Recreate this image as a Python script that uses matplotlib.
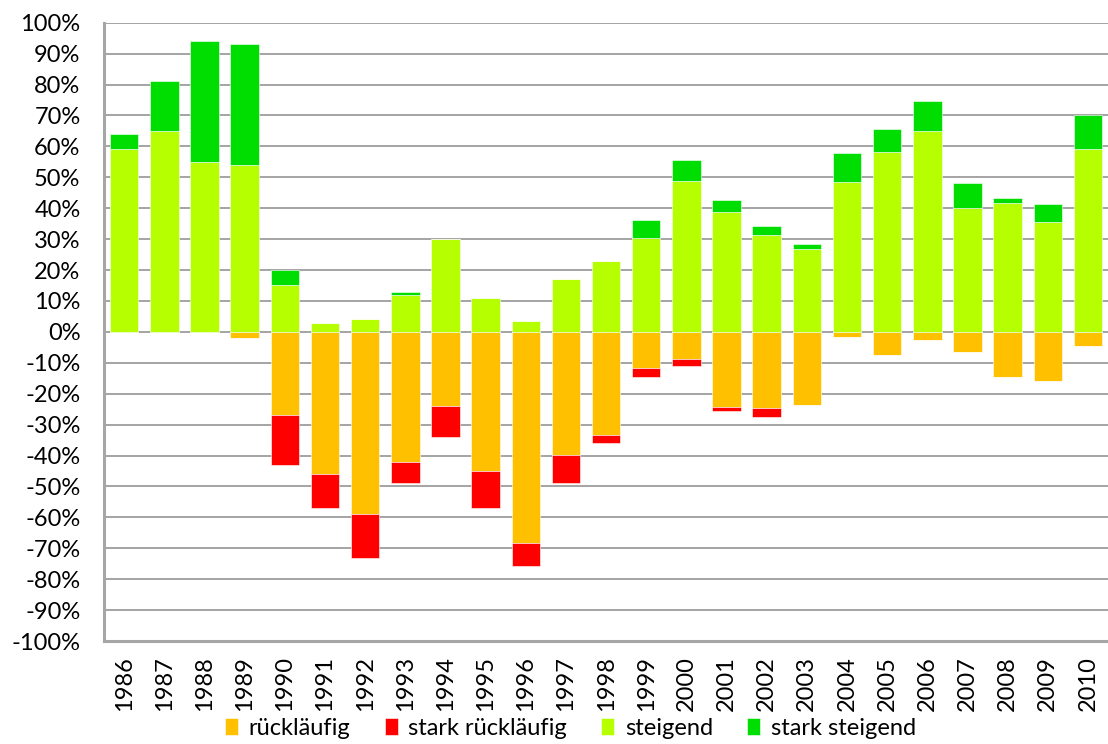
import numpy as np
import matplotlib
matplotlib.use("Agg")
from matplotlib import pyplot as plt
import matplotlib.ticker as ticker

plt.rcParams['font.family'] = ['Lato', 'DejaVu Sans']

# Werte in Prozent
years = [str(y) for y in range(1986, 2011)]
steigend = [59, 65, 55, 54, 15, 3, 4, 12, 30, 11, 3.5, 17, 23, 30.3, 48.9,
            38.9, 31.4, 26.9, 48.4, 58.2, 65, 40.2, 41.7, 35.6, 59.2]
stark_steigend = [5, 16, 39, 39, 5, 0, 0, 0.8, 0, 0, 0, 0, 0, 5.8, 6.7,
                  3.7, 2.7, 1.5, 9.3, 7.3, 9.8, 8, 1.7, 5.7, 10.9]
ruecklaeufig = [0, 0, 0, -2, -27, -46, -59, -42, -24, -45, -68.3, -39.8, -33.5, -11.7, -8.9,
                -24.4, -24.7, -23.8, -1.6, -7.4, -2.7, -6.5, -14.5, -15.8, -4.6]
stark_ruecklaeufig = [0, 0, 0, 0, -16, -11, -14, -7, -10, -12, -7.3, -9.2, -2.5, -2.8, -2,
                      -1.2, -2.7, 0, 0, 0, 0, 0, 0, 0, 0]

c_orange = '#FFC000'
c_red = '#FF0000'
c_light = '#B5FF00'
c_green = '#00DD00'

fig = plt.figure(figsize=(11.08, 7.44), dpi=100)
ax = fig.add_axes([0.094, 0.1384, 0.906, 0.8311])

x = np.arange(len(years))
w = 0.71
kw = dict(width=w, edgecolor='#FFFFFF', linewidth=0.4, zorder=3)
ax.bar(x, ruecklaeufig, color=c_orange, label='rückläufig', **kw)
ax.bar(x, stark_ruecklaeufig, bottom=ruecklaeufig, color=c_red, label='stark rückläufig', **kw)
ax.bar(x, steigend, color=c_light, label='steigend', **kw)
ax.bar(x, stark_steigend, bottom=steigend, color=c_green, label='stark steigend', **kw)

ax.set_xlim(-0.5, len(years) - 0.5)
ax.set_ylim(-100, 100)
ax.set_yticks(np.arange(-100, 101, 10))
ax.yaxis.set_major_formatter(ticker.FuncFormatter(lambda v, p: f'{v:.0f}%'))
ax.set_xticks(x)
ax.set_xticklabels(years, rotation=90)

ax.grid(axis='y', color='#8C8C8C', linewidth=1.1, zorder=0)
ax.set_axisbelow(True)
for s in ['top', 'right']:
    ax.spines[s].set_visible(False)
for s in ['left', 'bottom']:
    ax.spines[s].set_color('#A6A6A6')
    ax.spines[s].set_linewidth(2.2)

ax.tick_params(axis='y', labelsize=17, length=0, pad=17)
ax.tick_params(axis='x', labelsize=17, length=0, pad=11)

handles, labels = ax.get_legend_handles_labels()
fig.legend(handles, labels, loc='center', bbox_to_anchor=(0.515, 0.021), ncol=4,
           frameon=False, fontsize=17, handlelength=0.55, handleheight=0.7,
           handletextpad=0.45, columnspacing=1.45, borderpad=0.1)

fig.savefig('out.png', dpi=100)
